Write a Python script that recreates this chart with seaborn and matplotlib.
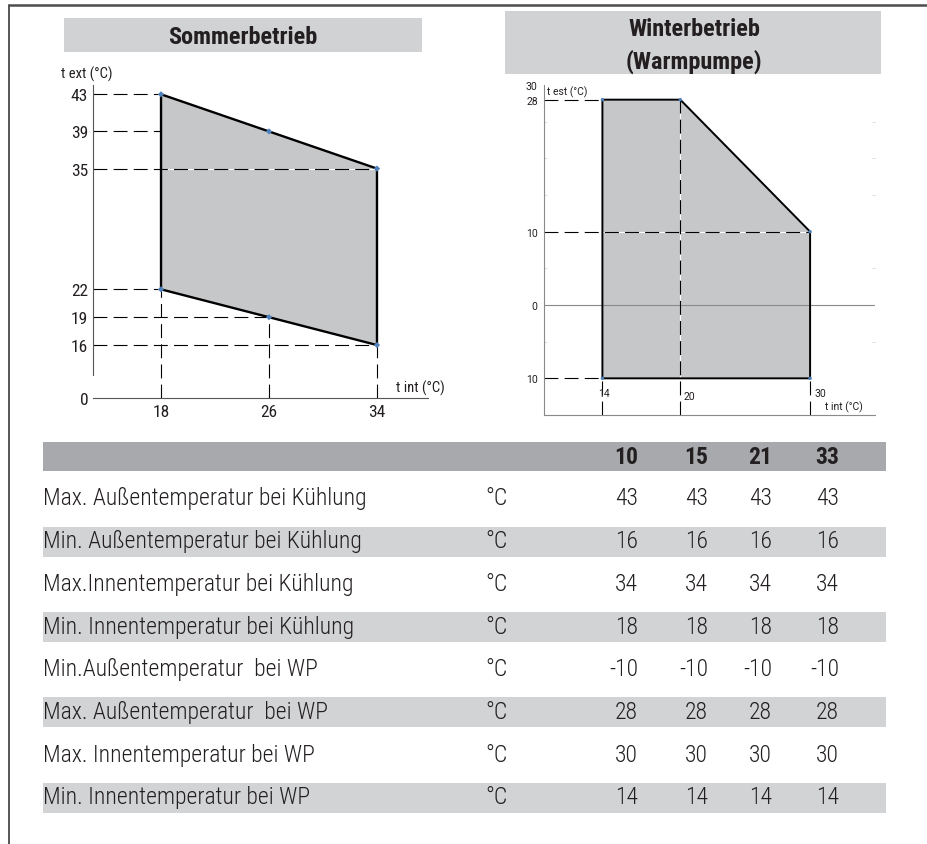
import pandas as pd
import seaborn as sns
import matplotlib.pyplot as plt
from matplotlib.patches import Rectangle

# ---------------- Daten ----------------
# Sommerbetrieb: Einsatzgrenzen (t int / t ext)
summer_tint = [18, 34, 34, 18]
summer_text = [43, 35, 16, 22]
summer_pts_x = [18, 26, 34, 34, 26, 18]
summer_pts_y = [43, 39, 35, 16, 19, 22]
summer_yticks = [43, 39, 35, 22, 19, 16]
summer_hguide_end = [18, 18, 34, 18, 26, 34]   # Hilfslinie endet bei diesem t int
summer_xticks = [18, 26, 34]
summer_vguide_top = [22, 19, 16]

# Winterbetrieb (Warmpumpe)
winter_tint = [14, 14, 20, 30, 30]
winter_test = [-10, 28, 28, 10, -10]
winter_yticks = [30, 28, 10, 0, -10]
winter_ylabels = ['30', '28', '10', '0', '10']
winter_hguide = [28, 10, -10]
winter_hguide_end = [14, 30, 14]
winter_xticks = [14, 20, 30]
winter_vguide_top = [-10, 28, -10]

# Tabelle
models = ['10', '15', '21', '33']
row_labels = ['Max. Außentemperatur bei Kühlung',
              'Min. Außentemperatur bei Kühlung',
              'Max.Innentemperatur bei Kühlung',
              'Min. Innentemperatur bei Kühlung',
              'Min.Außentemperatur  bei WP',
              'Max. Außentemperatur  bei WP',
              'Max. Innentemperatur bei WP',
              'Min. Innentemperatur bei WP']
units = ['°C'] * 8
table_values = [[43, 43, 43, 43],
                [16, 16, 16, 16],
                [34, 34, 34, 34],
                [18, 18, 18, 18],
                [-10, -10, -10, -10],
                [28, 28, 28, 28],
                [30, 30, 30, 30],
                [14, 14, 14, 14]]
df = pd.DataFrame(table_values, index=row_labels, columns=models)

# ---------------- Stil ----------------
sns.set_theme(style='white')
COND = ['Roboto Condensed', 'DejaVu Sans']
REG = ['Roboto', 'DejaVu Sans']
plt.rcParams['font.family'] = COND
plt.rcParams['lines.scale_dashes'] = False
INK = '#231f20'
FILL = '#c6c7c9'
BLUE = '#4f81bd'
DASH = (10, 4.5)

W, H = 928, 845
fig = plt.figure(figsize=(W / 100, H / 100), dpi=100)


def box(l, t, r, b):
    return [l / W, 1 - b / H, (r - l) / W, (b - t) / H]


# Hintergrund (Rahmen, Titel, Tabelle) in Pixelkoordinaten
bg = fig.add_axes([0, 0, 1, 1], zorder=0)
bg.set_xlim(0, W)
bg.set_ylim(H, 0)
bg.axis('off')
bg.plot([9, 9], [6, H], color='#3a3a3a', lw=1.2)
bg.plot([9, W], [6, 6], color='#4d4d4d', lw=1.8)

bg.add_patch(Rectangle((64, 19), 358, 34, color='#d1d2d4', lw=0))
bg.text(243, 37, 'Sommerbetrieb', ha='center', va='center', fontsize=17.5,
        fontweight='bold', color=INK)
bg.add_patch(Rectangle((505, 12), 376, 63, color='#d1d2d4', lw=0))
bg.text(694, 30, 'Winterbetrieb', ha='center', va='center', fontsize=17.5,
        fontweight='bold', color=INK)
bg.text(694, 62, '(Warmpumpe)', ha='center', va='center', fontsize=17.5,
        fontweight='bold', color=INK)

# ---------------- Sommer-Diagramm ----------------
ax1 = fig.add_axes(box(93, 86, 428, 399), zorder=1)
ax1.set_facecolor('none')
y0 = 10.3  # Achsenursprung (gebrochene Achse, beschriftet mit 0)
ax1.set_xlim(12.96, 37.78)
ax1.set_ylim(y0, 44)
ax1.fill(summer_tint, summer_text, color=FILL, lw=0, zorder=1)
ax1.plot(summer_tint + summer_tint[:1], summer_text + summer_text[:1],
         color='black', lw=1.7, zorder=3, solid_joinstyle='miter')
for yv, xe in zip(summer_yticks, summer_hguide_end):
    ax1.plot([12.96, xe], [yv, yv], color='black', lw=0.8, dashes=DASH,
             gapcolor='white' if yv == 35 else None, zorder=2)
for xv, yt in zip(summer_xticks, summer_vguide_top):
    ax1.plot([xv, xv], [y0, yt], color='black', lw=0.8, dashes=DASH, zorder=2)
sns.scatterplot(x=summer_pts_x, y=summer_pts_y, marker='D', s=10, color=BLUE,
                edgecolor='none', ax=ax1, zorder=4)
sns.despine(ax=ax1)
ax1.spines['left'].set_bounds(12.8, 44)
for s in ('left', 'bottom'):
    ax1.spines[s].set_color('#555555')
    ax1.spines[s].set_linewidth(0.8)
ax1.set_yticks(summer_yticks + [y0], [str(v) for v in summer_yticks] + ['0'])
ax1.set_xticks(summer_xticks, [str(v) for v in summer_xticks])
ax1.tick_params(axis='both', length=0, labelsize=12.5, labelcolor=INK)
ax1.tick_params(axis='y', pad=3.5)
ax1.tick_params(axis='x', pad=4)
ax1.grid(False)
fig.text(61 / W, 1 - 74 / H, 't ext (°C)', ha='left', va='center', fontsize=10.5, color=INK)
fig.text(396 / W, 1 - 388 / H, 't int (°C)', ha='left', va='center', fontsize=10.5, color=INK)

# ---------------- Winter-Diagramm ----------------
ax2 = fig.add_axes(box(544, 86, 875, 416), zorder=1)
ax2.set_facecolor('none')
ax2.set_xlim(9.5, 35)
ax2.set_ylim(-15, 30)
ax2.fill(winter_tint, winter_test, color=FILL, lw=0, zorder=1)
ax2.plot(winter_tint + winter_tint[:1], winter_test + winter_test[:1],
         color='black', lw=1.4, zorder=3, solid_joinstyle='miter')
ax2.axhline(0, color='#8a8a8a', lw=0.8, zorder=2)
for yv, xe in zip(winter_hguide, winter_hguide_end):
    ax2.plot([9.5, xe], [yv, yv], color='black', lw=0.8, dashes=DASH,
             gapcolor='white' if yv == 10 else None, zorder=2)
for xv, yt in zip(winter_xticks, winter_vguide_top):
    ax2.plot([xv, xv], [-15, yt], color='black', lw=0.8, dashes=DASH,
             gapcolor='white' if xv == 20 else None, zorder=2)
sns.scatterplot(x=winter_tint, y=winter_test, marker='o', s=6, color=BLUE,
                edgecolor='none', ax=ax2, zorder=4)
sns.despine(ax=ax2)
for s in ('left', 'bottom'):
    ax2.spines[s].set_color('#8a8a8a')
    ax2.spines[s].set_linewidth(0.8)
ax2.set_yticks(winter_yticks, winter_ylabels)
ax2.set_yticks(range(-15, 31, 5), minor=True)
ax2.set_xticks([])
ax2.tick_params(axis='y', which='major', length=0, pad=4.5, labelsize=7.5,
                labelcolor=INK)
ax2.tick_params(axis='y', which='minor', length=2.5, width=0.6, color='#d6d6d6',
                direction='in', left=True, right=True)
for lab in ax2.get_yticklabels():
    lab.set_family(REG)
ax2.grid(False)
for xv, (dx, dy) in zip(winter_xticks, [(-4, 22), (3, 19), (4.5, 22)]):
    ax2.annotate(str(xv), xy=(xv, -15), xytext=(dx, dy), textcoords='offset pixels',
                 ha='left', va='center', fontsize=7.5, family=REG, color=INK)
fig.text(547 / W, 1 - 92 / H, 't est (°C)', ha='left', va='center', fontsize=7.5,
         family=REG, color=INK)
fig.text(825 / W, 1 - 407 / H, 't int (°C)', ha='left', va='center', fontsize=7.5,
         family=REG, color=INK)

# ---------------- Tabelle ----------------
col_right = [638, 708, 772, 839]
bg.add_patch(Rectangle((43, 443), 843, 29, color='#a7a9ac', lw=0))
for m, xr in zip(df.columns, col_right):
    bg.text(xr, 458, m, ha='right', va='center', fontsize=17, fontweight='bold',
            color=INK)
for i, (label, unit) in enumerate(zip(df.index, units)):
    yc = 500 + i * 42.67
    if i % 2 == 1:
        bg.add_patch(Rectangle((43, yc - 15), 843, 30, color='#d1d3d4', lw=0))
    bg.text(43, yc - 1, label, ha='left', va='center', fontsize=17, fontweight=300,
            color=INK)
    bg.text(497, yc - 1, unit, ha='center', va='center', fontsize=17, fontweight=300,
            color=INK)
    for v, xr in zip(df.loc[label], col_right):
        bg.text(xr, yc - 1, str(v), ha='right', va='center', fontsize=17,
                fontweight=300, color=INK)

plt.savefig('out.png', dpi=100)
